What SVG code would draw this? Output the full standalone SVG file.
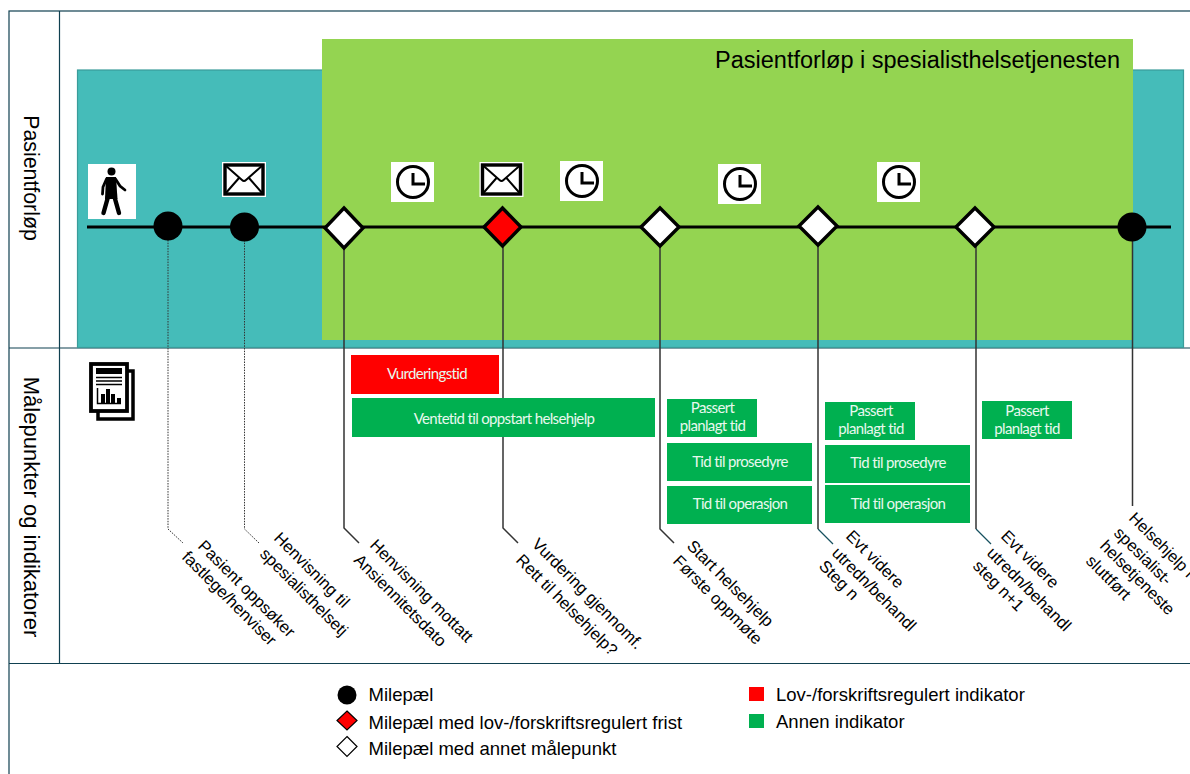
<svg xmlns="http://www.w3.org/2000/svg" width="1190" height="774" viewBox="0 0 1190 774">
<style>
text{font-family:"Liberation Sans",Arial,sans-serif;fill:#000}
.lab{font-size:16.6px}
.leg{font-size:18.5px}
.side{font-size:21.3px}
.g{fill:#00b050}
.b{font-family:Lato,"Noto Sans",sans-serif;font-size:15px;fill:#e8f8ee;text-anchor:middle;letter-spacing:-.65px}
.fr{stroke:#0f4050;stroke-width:1.2;fill:none}
.solid{stroke:#333;stroke-width:1.5;fill:none}
.dot{stroke:#333;stroke-width:1;stroke-dasharray:1.5 1.2;fill:none}
.ms{stroke:#000;stroke-width:3.4;stroke-linejoin:miter}
</style>
<defs>
<g id="clock"><rect x="-22" y="-20" width="43" height="40" fill="#fff"/><circle r="15.5" fill="none" stroke="#000" stroke-width="3"/><path d="M0-9V2H12" fill="none" stroke="#000" stroke-width="3"/></g>
<g id="mail"><rect x="-22" y="-18" width="44" height="35" fill="#fff"/><rect x="-19" y="-15" width="38" height="29" fill="none" stroke="#000" stroke-width="3.400"/><path d="M-19-15 -2 0Q0 2 2 0L19-15M-19 14-5-2M19 14 5-2" fill="none" stroke="#000" stroke-width="2"/></g>
</defs>
<g id="frame"><rect x="9" y="11" width="1195" height="800" class="fr"/><path d="M59.500 11V664M9 348H1190M9 663.500H1190" class="fr"/></g>
<g id="lanes"><rect x="77.500" y="70" width="1106" height="277.500" fill="#45bcb9" stroke="#3a9c9a" stroke-width="1.200"/><rect x="322" y="39" width="811" height="301" fill="#94d451"/><text x="1120" y="68" text-anchor="end" style="font-size:23.500px">Pasientforløp i spesialisthelsetjenesten</text></g>
<text class="side" transform="translate(24 178) rotate(90)" text-anchor="middle">Pasientforløp</text>
<text class="side" transform="translate(24 507) rotate(90)" text-anchor="middle" style="font-size:22px">Målepunkter og indikatorer</text>
<g id="connectors">
<path d="M87 227H1171" stroke="#000" stroke-width="2.800" fill="none"/>
<path d="M168 240V529L183 543" class="dot"/><path d="M244.500 240V529L259 543" class="dot"/>
<path d="M344 246V528L359 543" class="solid"/><path d="M503 246V528L518 543" class="solid"/><path d="M660 246V529L674 543" class="solid"/><path d="M818 246V529" class="solid"/><path d="M818 529 833 544" stroke="#17505f" stroke-width="1.200" fill="none"/><path d="M976 246V529" class="solid"/><path d="M976 529 991 544" stroke="#17505f" stroke-width="1.200" fill="none"/><path d="M1132.500 240V506" class="solid"/>
</g>
<g id="icon-person"><rect x="88" y="164" width="48" height="55" fill="#fff"/><circle cx="111.500" cy="171.500" r="4" fill="#000"/><path d="M106 177H116L117.500 199H105Z" fill="#000"/><path d="M106.500 179 103 187 102.500 194M115.500 179 120 186 125 190" fill="none" stroke="#000" stroke-width="2.800" stroke-linecap="round"/><path d="M108 197 103.500 213M114.500 197 119 213" fill="none" stroke="#000" stroke-width="4.400" stroke-linecap="round"/></g>
<use id="icon-mail-1" href="#mail" x="244" y="180"/>
<use id="icon-clock-1" href="#clock" x="413" y="182"/>
<use id="icon-mail-2" href="#mail" x="501.500" y="180"/>
<use id="icon-clock-2" href="#clock" x="582" y="181"/>
<use id="icon-clock-3" href="#clock" x="740" y="184"/>
<use id="icon-clock-4" href="#clock" x="899" y="182"/>
<g id="m1"><circle cx="168" cy="226" r="14.500" fill="#000"/></g>
<g id="m2"><circle cx="244.500" cy="227" r="14.500" fill="#000"/></g>
<g id="m3"><path d="M344 208 363 228 344 248 325 228Z" fill="#fff" class="ms"/></g>
<g id="m4"><path d="M502.500 208 521 227 502.500 246 484 227Z" fill="#f00" class="ms"/></g>
<g id="m5"><path d="M660 208 679 227 660 246 641 227Z" fill="#fff" class="ms"/></g>
<g id="m6"><path d="M818 207 837 226 818 245 799 226Z" fill="#fff" class="ms"/></g>
<g id="m7"><path d="M975 208 994 227 975 246 956 227Z" fill="#fff" class="ms"/></g>
<g id="m8"><circle cx="1132" cy="227" r="14.500" fill="#000"/></g>
<g id="icon-report"><rect x="98" y="371" width="35" height="48" fill="#fff" stroke="#000" stroke-width="3.500"/><rect x="91" y="364" width="36" height="47" fill="#fff" stroke="#000" stroke-width="3.800"/><path d="M96 377.500H122M96 381H122M96 384.500H122M97.500 388V403.500H121" fill="none" stroke="#000" stroke-width="1.500"/><rect x="96" y="368" width="26" height="6"/><rect x="101" y="394" width="4" height="9"/><rect x="106" y="389" width="4" height="14"/><rect x="111" y="394" width="4" height="9"/><rect x="117" y="398" width="4" height="5"/></g>
<g id="ind-vurdering"><rect x="351" y="355" width="148" height="39" fill="#f00"/><text x="427" y="379" class="b">Vurderingstid</text></g>
<g id="ind-ventetid"><rect x="352" y="398" width="303" height="39" class="g"/><text x="504" y="424" class="b">Ventetid til oppstart helsehjelp</text></g>
<g id="ind-passert-1"><rect x="667" y="399" width="90" height="38" class="g"/><text x="712.500" y="413" class="b">Passert</text><text x="712.500" y="431" class="b">planlagt tid</text></g>
<g id="ind-pros-1"><rect x="667" y="443" width="145" height="38" class="g"/><text x="740" y="467" class="b">Tid til prosedyre</text></g>
<g id="ind-op-1"><rect x="667" y="486" width="145" height="38" class="g"/><text x="740" y="508.500" class="b">Tid til operasjon</text></g>
<g id="ind-passert-2"><rect x="825" y="402" width="90" height="38" class="g"/><text x="871" y="416" class="b">Passert</text><text x="871" y="434" class="b">planlagt tid</text></g>
<g id="ind-pros-2"><rect x="825" y="445" width="145" height="38" class="g"/><text x="898" y="468" class="b">Tid til prosedyre</text></g>
<g id="ind-op-2"><rect x="825" y="485" width="145" height="38" class="g"/><text x="898" y="509" class="b">Tid til operasjon</text></g>
<g id="ind-passert-3"><rect x="982" y="401" width="90" height="38" class="g"/><text x="1027" y="416" class="b">Passert</text><text x="1027" y="434" class="b">planlagt tid</text></g>
<g id="labels">
<text class="lab" transform="translate(197 547) rotate(45)">Pasient oppsøker</text><text class="lab" transform="translate(181 558) rotate(45)">fastlege/henviser</text>
<text class="lab" transform="translate(273 539) rotate(45)">Henvisning til</text><text class="lab" transform="translate(259 555) rotate(45)">spesialisthelsetj</text>
<text class="lab" transform="translate(369 546) rotate(45)">Henvisning mottatt</text><text class="lab" transform="translate(353 561) rotate(45)">Ansiennitetsdato</text>
<text class="lab" transform="translate(531 545) rotate(45)">Vurdering gjennomf.</text><text class="lab" transform="translate(515 561) rotate(45)">Rett til helsehjelp?</text>
<text class="lab" transform="translate(686 547) rotate(45)">Start helsehjelp</text><text class="lab" transform="translate(672 562) rotate(45)">Første oppmøte</text>
<text class="lab" transform="translate(845 537) rotate(45)">Evt videre</text><text class="lab" transform="translate(831 554) rotate(45)">utredn/behandl</text><text class="lab" transform="translate(818 567) rotate(45)">Steg n</text>
<text class="lab" transform="translate(1000 537) rotate(45)">Evt videre</text><text class="lab" transform="translate(986 554) rotate(45)">utredn/behandl</text><text class="lab" transform="translate(972 567) rotate(45)">steg n+1</text>
<text class="lab" transform="translate(1128 519) rotate(45)" style="font-size:16.2px">Helsehjelp i</text><text class="lab" transform="translate(1113 534) rotate(45)">spesialist-</text><text class="lab" transform="translate(1099 547) rotate(45)">helsetjeneste</text><text class="lab" transform="translate(1085 562) rotate(45)">sluttført</text>
</g>
<g id="legend">
<circle cx="347" cy="695" r="9.500" fill="#000"/><text x="368.500" y="701" class="leg">Milepæl</text>
<path d="M347 711 357 720.500 347 730 337 720.500Z" fill="#f00" stroke="#000" stroke-width="1.200"/><text x="368.500" y="728.500" class="leg">Milepæl med lov-/forskriftsregulert frist</text>
<path d="M347 736.500 357 746.500 347 756.500 337 746.500Z" fill="#fff" stroke="#000" stroke-width="1.200"/><text x="368.500" y="755" class="leg">Milepæl med annet målepunkt</text>
<rect x="749" y="687" width="15" height="14" fill="#f00"/><text x="776" y="701" class="leg">Lov-/forskriftsregulert indikator</text>
<rect x="749" y="714" width="15" height="14" class="g"/><text x="776" y="728" class="leg">Annen indikator</text>
</g>
</svg>
